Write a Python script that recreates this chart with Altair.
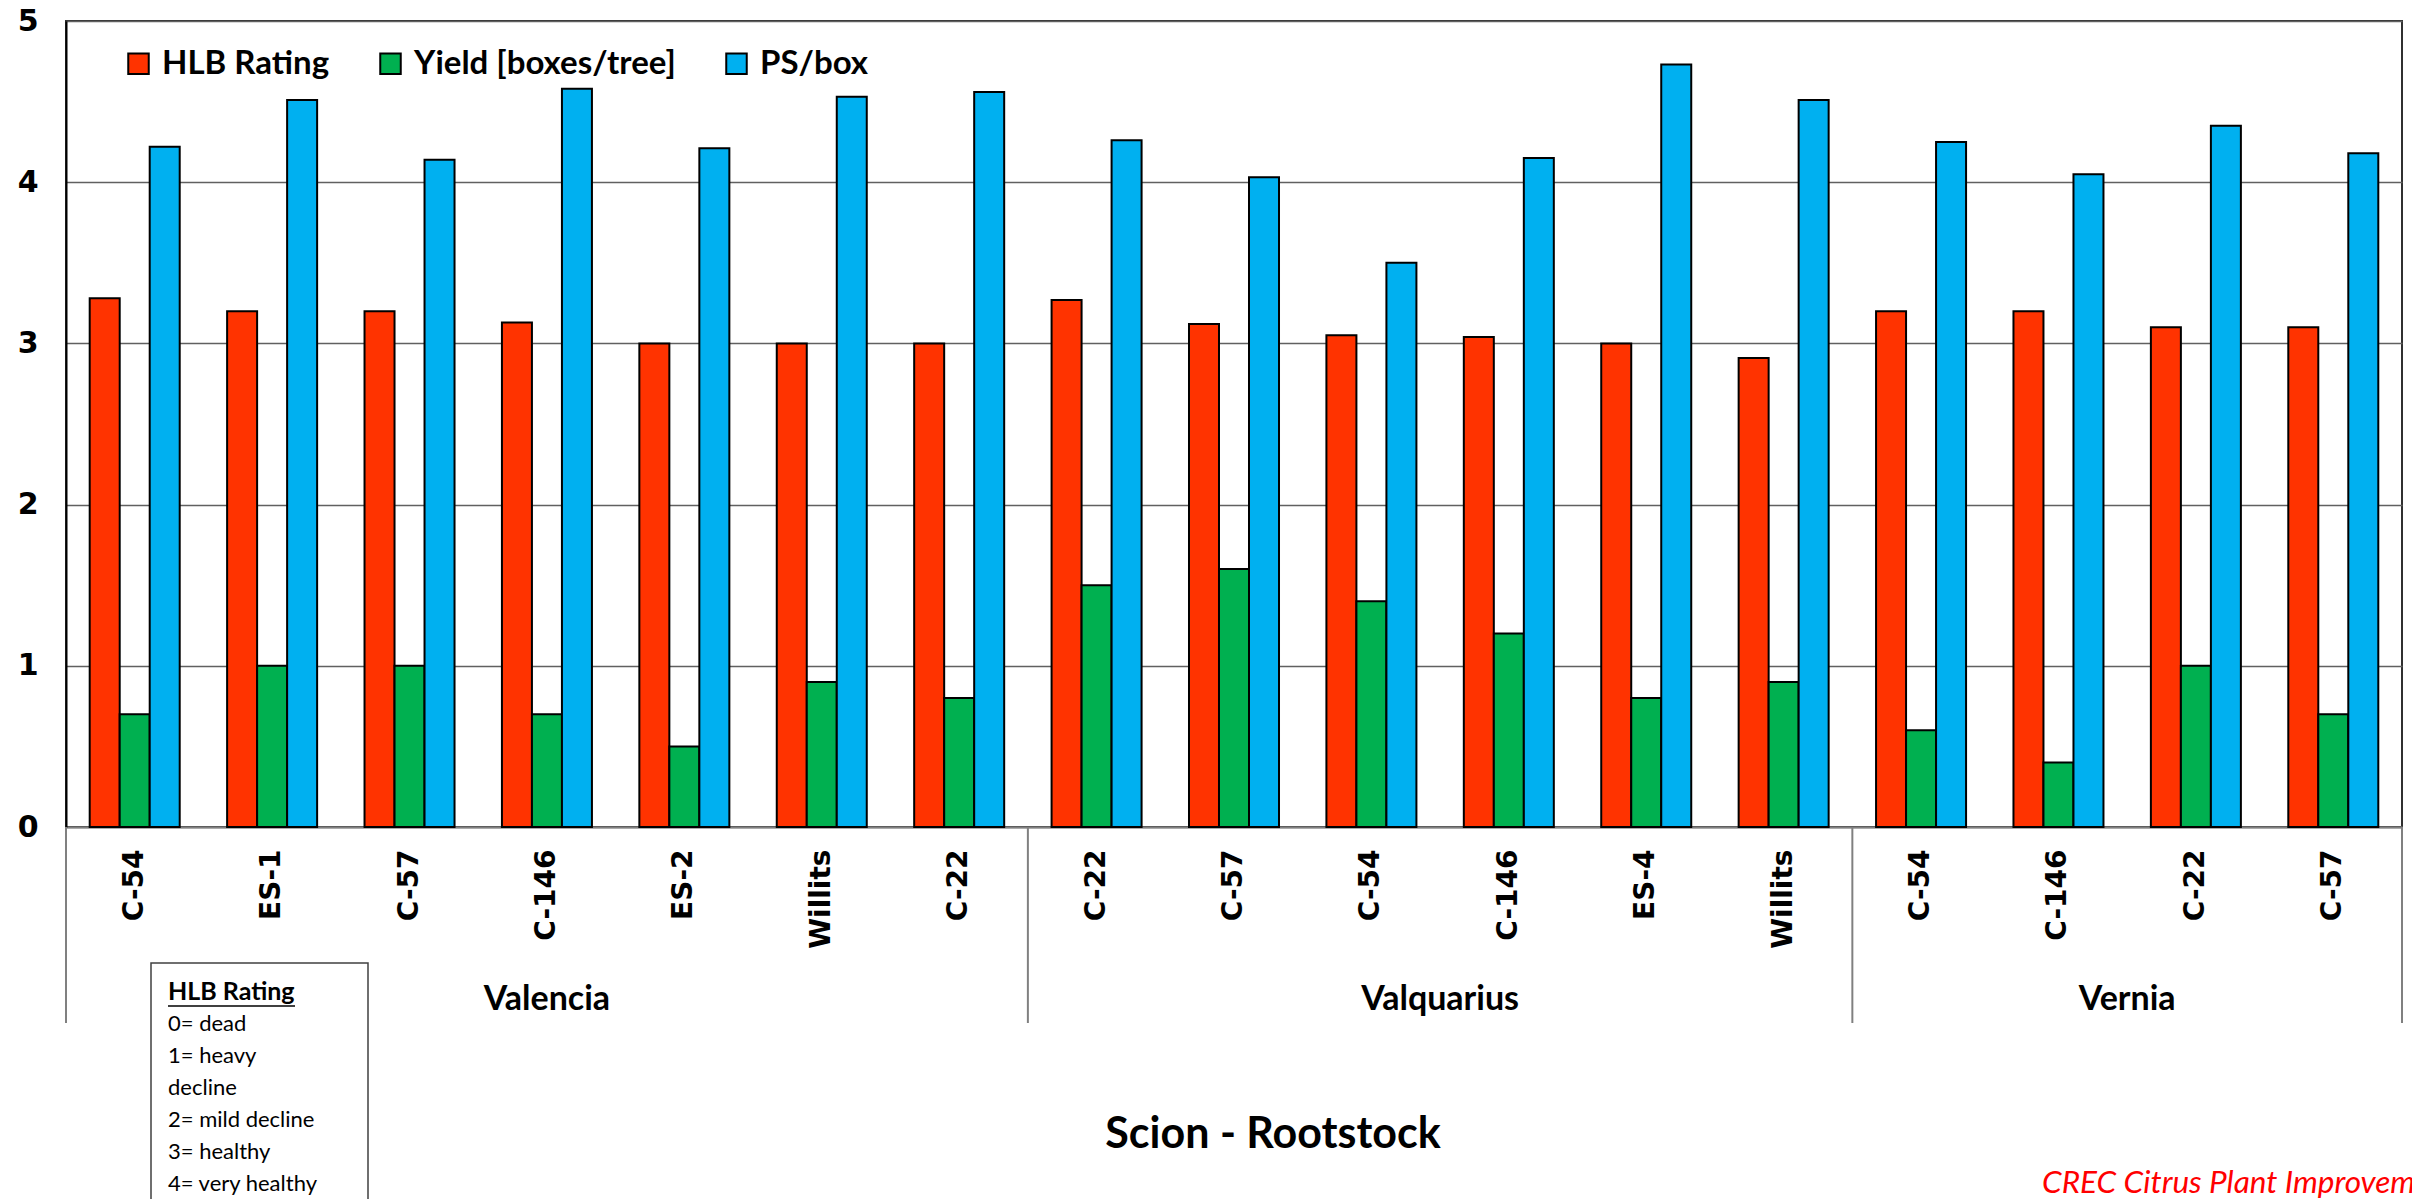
import altair as alt
import pandas as pd

# Scion groups and rootstocks, left to right
scions = ["Valencia"] * 7 + ["Valquarius"] * 6 + ["Vernia"] * 4
rootstocks = [
    "C-54", "ES-1", "C-57", "C-146", "ES-2", "Willits", "C-22",
    "C-22", "C-57", "C-54", "C-146", "ES-4", "Willits",
    "C-54", "C-146", "C-22", "C-57",
]

# Series values per scion-rootstock combination
hlb_rating = [3.28, 3.20, 3.20, 3.13, 3.00, 3.00, 3.00,
              3.27, 3.12, 3.05, 3.04, 3.00, 2.91,
              3.20, 3.20, 3.10, 3.10]
yield_boxes = [0.7, 1.0, 1.0, 0.7, 0.5, 0.9, 0.8,
               1.5, 1.6, 1.4, 1.2, 0.8, 0.9,
               0.6, 0.4, 1.0, 0.7]
ps_box = [4.22, 4.51, 4.14, 4.58, 4.21, 4.53, 4.56,
          4.26, 4.03, 3.50, 4.15, 4.73, 4.51,
          4.25, 4.05, 4.35, 4.18]

series_names = ["HLB Rating", "Yield [boxes/tree]", "PS/box"]
series_colors = ["#FF3300", "#00B050", "#00B0F0"]

group_names = ["Valencia", "Valquarius", "Vernia"]

hlb_legend_lines = ["0= dead", "1= heavy", "decline", "2= mild decline",
                    "3= healthy", "4= very healthy"]

# ---- tables -------------------------------------------------------------
keys = [f"{i:02d}|{r}" for i, r in enumerate(rootstocks)]
rows = []
for k, s, vals in zip(keys, scions, zip(hlb_rating, yield_boxes, ps_box)):
    for name, v in zip(series_names, vals):
        rows.append({"key": k, "scion": s, "series": name, "value": v})
bars_df = pd.DataFrame(rows)

# group extents in category-index units
starts, ends = [], []
pos = 0
for g in group_names:
    n = scions.count(g)
    starts.append(pos)
    ends.append(pos + n)
    pos += n
groups_df = pd.DataFrame({"scion": group_names, "start": starts, "end": ends})
groups_df["mid"] = (groups_df["start"] + groups_df["end"]) / 2
bounds_df = pd.DataFrame({"b": sorted(set(starts + ends))})

W, H = 2336, 806
n_cat = len(rootstocks)

# ---- bars ---------------------------------------------------------------
bars = alt.Chart(bars_df).mark_bar(stroke="black", strokeWidth=2).encode(
    x=alt.X(
        "key:N",
        sort=keys,
        scale=alt.Scale(paddingInner=0, paddingOuter=0),
        axis=alt.Axis(
            title=None,
            labelExpr="split(datum.label, '|')[1]",
            labelAngle=270,
            labelAlign="right",
            labelBaseline="middle",
            labelFont="DejaVu Sans",
            labelFontWeight="bold",
            labelFontSize=28,
            labelColor="black",
            labelPadding=22,
            ticks=False,
            domainColor="#808080",
            domainWidth=2,
            grid=False,
        ),
    ),
    xOffset=alt.XOffset(
        "series:N", sort=series_names,
        scale=alt.Scale(paddingInner=0, paddingOuter=0.79),
    ),
    y=alt.Y(
        "value:Q",
        scale=alt.Scale(domain=[0, 5], nice=False),
        axis=alt.Axis(
            title=None,
            values=[0, 1, 2, 3, 4, 5],
            labelFont="DejaVu Sans",
            labelFontWeight="bold",
            labelFontSize=30,
            labelColor="black",
            labelPadding=28,
            ticks=False,
            domainColor="black",
            domainWidth=2,
            grid=True,
            gridColor="#606060",
            gridWidth=1.5,
        ),
    ),
    color=alt.Color(
        "series:N",
        sort=series_names,
        scale=alt.Scale(domain=series_names, range=series_colors),
        legend=alt.Legend(
            title=None,
            orient="none",
            legendX=56,
            legendY=26,
            direction="horizontal",
            symbolType="square",
            symbolSize=420,
            symbolStrokeColor="black",
            symbolStrokeWidth=2,
            labelFont="Lato",
            labelFontWeight="bold",
            labelFontSize=33,
            labelColor="black",
            labelLimit=0,
            labelOffset=7,
            columnPadding=44,
            padding=0,
        ),
    ),
)

# ---- scion group labels and separators ---------------------------------
idx_scale = alt.Scale(domain=[0, n_cat], nice=False, zero=True)

group_text = alt.Chart(groups_df).mark_text(
    font="Lato", fontWeight="bold", fontSize=34, color="black",
    baseline="middle", align="center",
).encode(
    x=alt.X("mid:Q", scale=idx_scale, axis=None),
    y=alt.value(979),
    text="scion:N",
)

separators = alt.Chart(bounds_df).mark_rule(color="#808080", strokeWidth=2).encode(
    x=alt.X("b:Q", scale=idx_scale, axis=None),
    y=alt.value(H),
    y2=alt.value(1002),
)

# ---- annotations --------------------------------------------------------
title_text = alt.Chart(pd.DataFrame({"t": ["Scion - Rootstock"]})).mark_text(
    font="Lato", fontWeight="bold", fontSize=43, color="black",
    align="center", baseline="middle",
).encode(x=alt.value(1207), y=alt.value(1114), text="t:N")

note_box = alt.Chart(pd.DataFrame({"a": [0]})).mark_rect(
    fill="white", stroke="#404040", strokeWidth=1.5,
).encode(x=alt.value(85), x2=alt.value(302), y=alt.value(942), y2=alt.value(1300))

note_head = alt.Chart(pd.DataFrame({"t": ["HLB Rating"]})).mark_text(
    font="Lato", fontWeight="bold", fontSize=25, color="black",
    align="left", baseline="middle",
).encode(x=alt.value(102), y=alt.value(971), text="t:N")

note_underline = alt.Chart(pd.DataFrame({"a": [0]})).mark_rule(
    color="black", strokeWidth=1.5,
).encode(x=alt.value(102), x2=alt.value(229), y=alt.value(985))

note_lines = alt.Chart(pd.DataFrame({"t": ["\n".join(hlb_legend_lines)]})).mark_text(
    font="Lato", fontSize=22, color="black", align="left", baseline="top",
    lineBreak="\n", lineHeight=32,
).encode(x=alt.value(102), y=alt.value(993), text="t:N")

credit = alt.Chart(pd.DataFrame({"t": ["CREC Citrus Plant Improvement Team"]})).mark_text(
    font="Lato", fontStyle="italic", fontSize=31.5, color="#FF0000",
    align="left", baseline="alphabetic",
).encode(x=alt.value(1976), y=alt.value(1172), text="t:N")

chart = alt.layer(
    bars, separators, group_text, title_text,
    note_box, note_head, note_underline, note_lines, credit,
).resolve_scale(x="independent").properties(
    width=W,
    height=H,
    autosize=alt.AutoSizeParams(type="none"),
    padding={"left": 66, "top": 21, "right": 10, "bottom": 372},
    background="white",
).configure_view(stroke="#303030", strokeWidth=2)

chart.save("out.html", embed_options={"renderer": "svg", "actions": False})
